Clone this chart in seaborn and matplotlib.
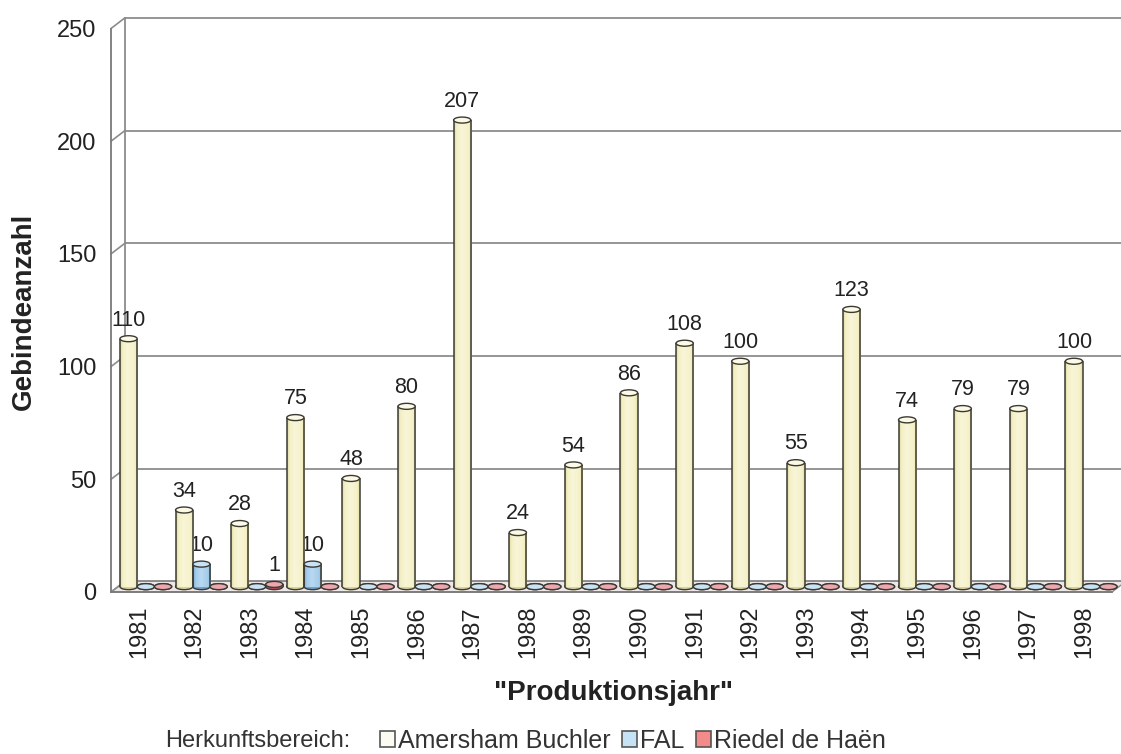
import numpy as np
import pandas as pd
import matplotlib
matplotlib.use("Agg")
import matplotlib.pyplot as plt
from matplotlib.patches import Ellipse, Polygon, Patch
from matplotlib.colors import to_rgb
import seaborn as sns

# ---- data -------------------------------------------------------------
years = [str(y) for y in range(1981, 1999)]
amersham = [110, 34, 28, 75, 48, 80, 207, 24, 54, 86, 108, 100, 55, 123, 74, 79, 79, 100]
fal = [0, 10, 0, 10, 0, 0, 0, 0, 0, 0, 0, 0, 0, 0, 0, 0, 0, 0]
riedel = [0, 0, 1, 0, 0, 0, 0, 0, 0, 0, 0, 0, 0, 0, 0, 0, 0, 0]
sources = ["Amersham Buchler", "FAL", "Riedel de Haën"]
y_ticks = [0, 50, 100, 150, 200, 250]

# ---- styles -----------------------------------------------------------
body = {"Amersham Buchler": "#f4f0c6", "FAL": "#a3cbea", "Riedel de Haën": "#e2808c"}
shade = {"Amersham Buchler": "#d9d39a", "FAL": "#6fa3cf", "Riedel de Haën": "#b8505e"}
cap = {"Amersham Buchler": "#fcfae6", "FAL": "#c8e2f6", "Riedel de Haën": "#f0a6ae"}
key = {"Amersham Buchler": "#fbfbf2", "FAL": "#c6e2f5", "Riedel de Haën": "#f58a8a"}
outline = "#3b3a32"
grid = "#8c8c8c"

df = pd.DataFrame({
    "Produktionsjahr": years * 3,
    "Gebindeanzahl": amersham + fal + riedel,
    "Herkunftsbereich": np.repeat(sources, len(years)),
})

sns.set_style("white")
plt.rcParams["font.family"] = ["Liberation Sans", "DejaVu Sans"]

W, H = 1121, 754
fig = plt.figure(figsize=(W / 100, H / 100), dpi=100)

# front plane of the box (pixels) and depth of the box
fx0, fx1, fy0, fy1 = 111, 1112, 592, 28.5
depth_x, depth_y = 14, 10.7
n = len(years)

ax = fig.add_axes([fx0 / W, 1 - fy0 / H, (fx1 - fx0) / W, (fy0 - fy1) / H])
axb = fig.add_axes([(fx0 + depth_x / 2) / W, 1 - (fy0 - depth_y / 2) / H,
                    (fx1 - fx0) / W, (fy0 - fy1) / H])
ax.set_xlim(-0.5, n - 0.5)
ax.set_ylim(0, 250)

# depth offsets in front-axes data units
dx = depth_x / ((fx1 - fx0) / n)
dy = depth_y / ((fy0 - fy1) / 250)

# floor
ax.add_patch(Polygon([(-0.5, 0), (n - 0.5, 0), (n - 0.5 + dx, dy), (-0.5 + dx, dy)],
                     closed=True, facecolor="#eee7e7", edgecolor=grid, lw=1.0,
                     clip_on=False, zorder=1))
# back wall grid and side connectors
for v in y_ticks:
    ax.plot([-0.5 + dx, n - 0.5 + dx + 0.3], [v + dy, v + dy], color=grid, lw=1.3,
            clip_on=False, zorder=1)
    ax.plot([-0.5, -0.5 + dx], [v, v + dy], color=grid, lw=1.2, clip_on=False, zorder=1)
ax.plot([-0.5 + dx, -0.5 + dx], [dy, 250 + dy], color=grid, lw=1.3, clip_on=False, zorder=1)

for side in ["top", "right"]:
    ax.spines[side].set_visible(False)
for side in ["left", "bottom"]:
    ax.spines[side].set_color("#7a7a7a")
    ax.spines[side].set_linewidth(1.3)

ax.set_yticks(y_ticks)
ax.tick_params(axis="y", length=7.2, width=1.2, color="#7a7a7a", pad=3.5,
               labelsize=17, labelcolor="#222222")
ax.set_xticks(range(n), years, rotation=90)
ax.set_xticks(np.arange(-0.5, n, 1.0), minor=True)
ax.tick_params(axis="x", which="major", length=0, pad=10, labelsize=17, labelcolor="#222222")
ax.tick_params(axis="x", which="minor", length=6, width=1.1, color="#7a7a7a", direction="out")
ax.grid(False)

# ---- cylinders --------------------------------------------------------
sns.barplot(data=df, x="Produktionsjahr", y="Gebindeanzahl", hue="Herkunftsbereich",
            order=years, hue_order=sources, palette=body, width=0.93, saturation=1,
            errorbar=None, legend=False, ax=axb)
axb.set_xlim(-0.5, n - 0.5)
axb.set_ylim(0, 250)

ell_h = 6 / ((fy0 - fy1) / 250)  # ellipse height in data units


def profile(src):
    a = np.array(to_rgb(shade[src]))
    b = np.array(to_rgb(body[src]))
    c = np.array(to_rgb(cap[src]))
    t = np.linspace(0, 1, 64)
    w = np.interp(t, [0, 0.12, 0.45, 0.85, 1], [0.0, 0.55, 1.0, 0.6, 0.15])
    light = np.clip((w - 0.6) / 0.4, 0, 1)[:, None]
    col = a + (b - a) * np.clip(w / 0.6, 0, 1)[:, None]
    col = col + (c - col) * light * 0.6
    return col[None, :, :]


for container, src in zip(axb.containers, sources):
    img = profile(src)
    for bar in container:
        x0, w, h = bar.get_x(), bar.get_width(), bar.get_height()
        xc = x0 + w / 2
        bar.set_edgecolor("none")
        bar.set_zorder(3)
        axb.add_patch(Ellipse((xc, 0), w, ell_h, facecolor=shade[src], edgecolor=outline,
                              lw=1.0, zorder=2.5, clip_on=False))
        if h > 0:
            im = axb.imshow(img, extent=[x0, x0 + w, 0, h], aspect="auto",
                            interpolation="bilinear", zorder=3.05)
            im.set_clip_path(bar)
            axb.vlines([x0, x0 + w], 0, h, color=outline, lw=1.1, zorder=3.1)
            axb.annotate(f"{h:.0f}", (xc, h), xytext=(0, 9.5), textcoords="offset points",
                         ha="center", va="baseline", fontsize=15.5, color="#222222",
                         annotation_clip=False)
        axb.add_patch(Ellipse((xc, h), w, ell_h, facecolor=cap[src], edgecolor=outline,
                              lw=1.0, zorder=3.2, clip_on=False))

axb.set_xlim(-0.5, n - 0.5)
axb.set_ylim(0, 250)
axb.axis("off")

# ---- titles and legend ------------------------------------------------
fig.text(613 / W, 1 - 693 / H, '"Produktionsjahr"', ha="center", va="center",
         fontsize=20, fontweight="bold", color="#222222")
fig.text(24 / W, 1 - 311 / H, "Gebindeanzahl", ha="center", va="center", rotation=90,
         fontsize=20, fontweight="bold", color="#222222")

fig.text(165 / W, 1 - 741 / H, "Herkunftsbereich:", ha="left", va="center",
         fontsize=17, color="#333333")
handles = [Patch(facecolor=key[s], edgecolor="#555555", lw=1.2) for s in sources]
fig.legend(handles, sources, loc="center left", bbox_to_anchor=(380 / W, 1 - 741 / H),
           ncol=3, frameon=False, fontsize=18, handlelength=0.6, handleheight=0.6,
           handletextpad=0.12, columnspacing=0.45, borderpad=0, borderaxespad=0,
           labelcolor="#333333")

fig.savefig("out.png", dpi=100, facecolor="white")
